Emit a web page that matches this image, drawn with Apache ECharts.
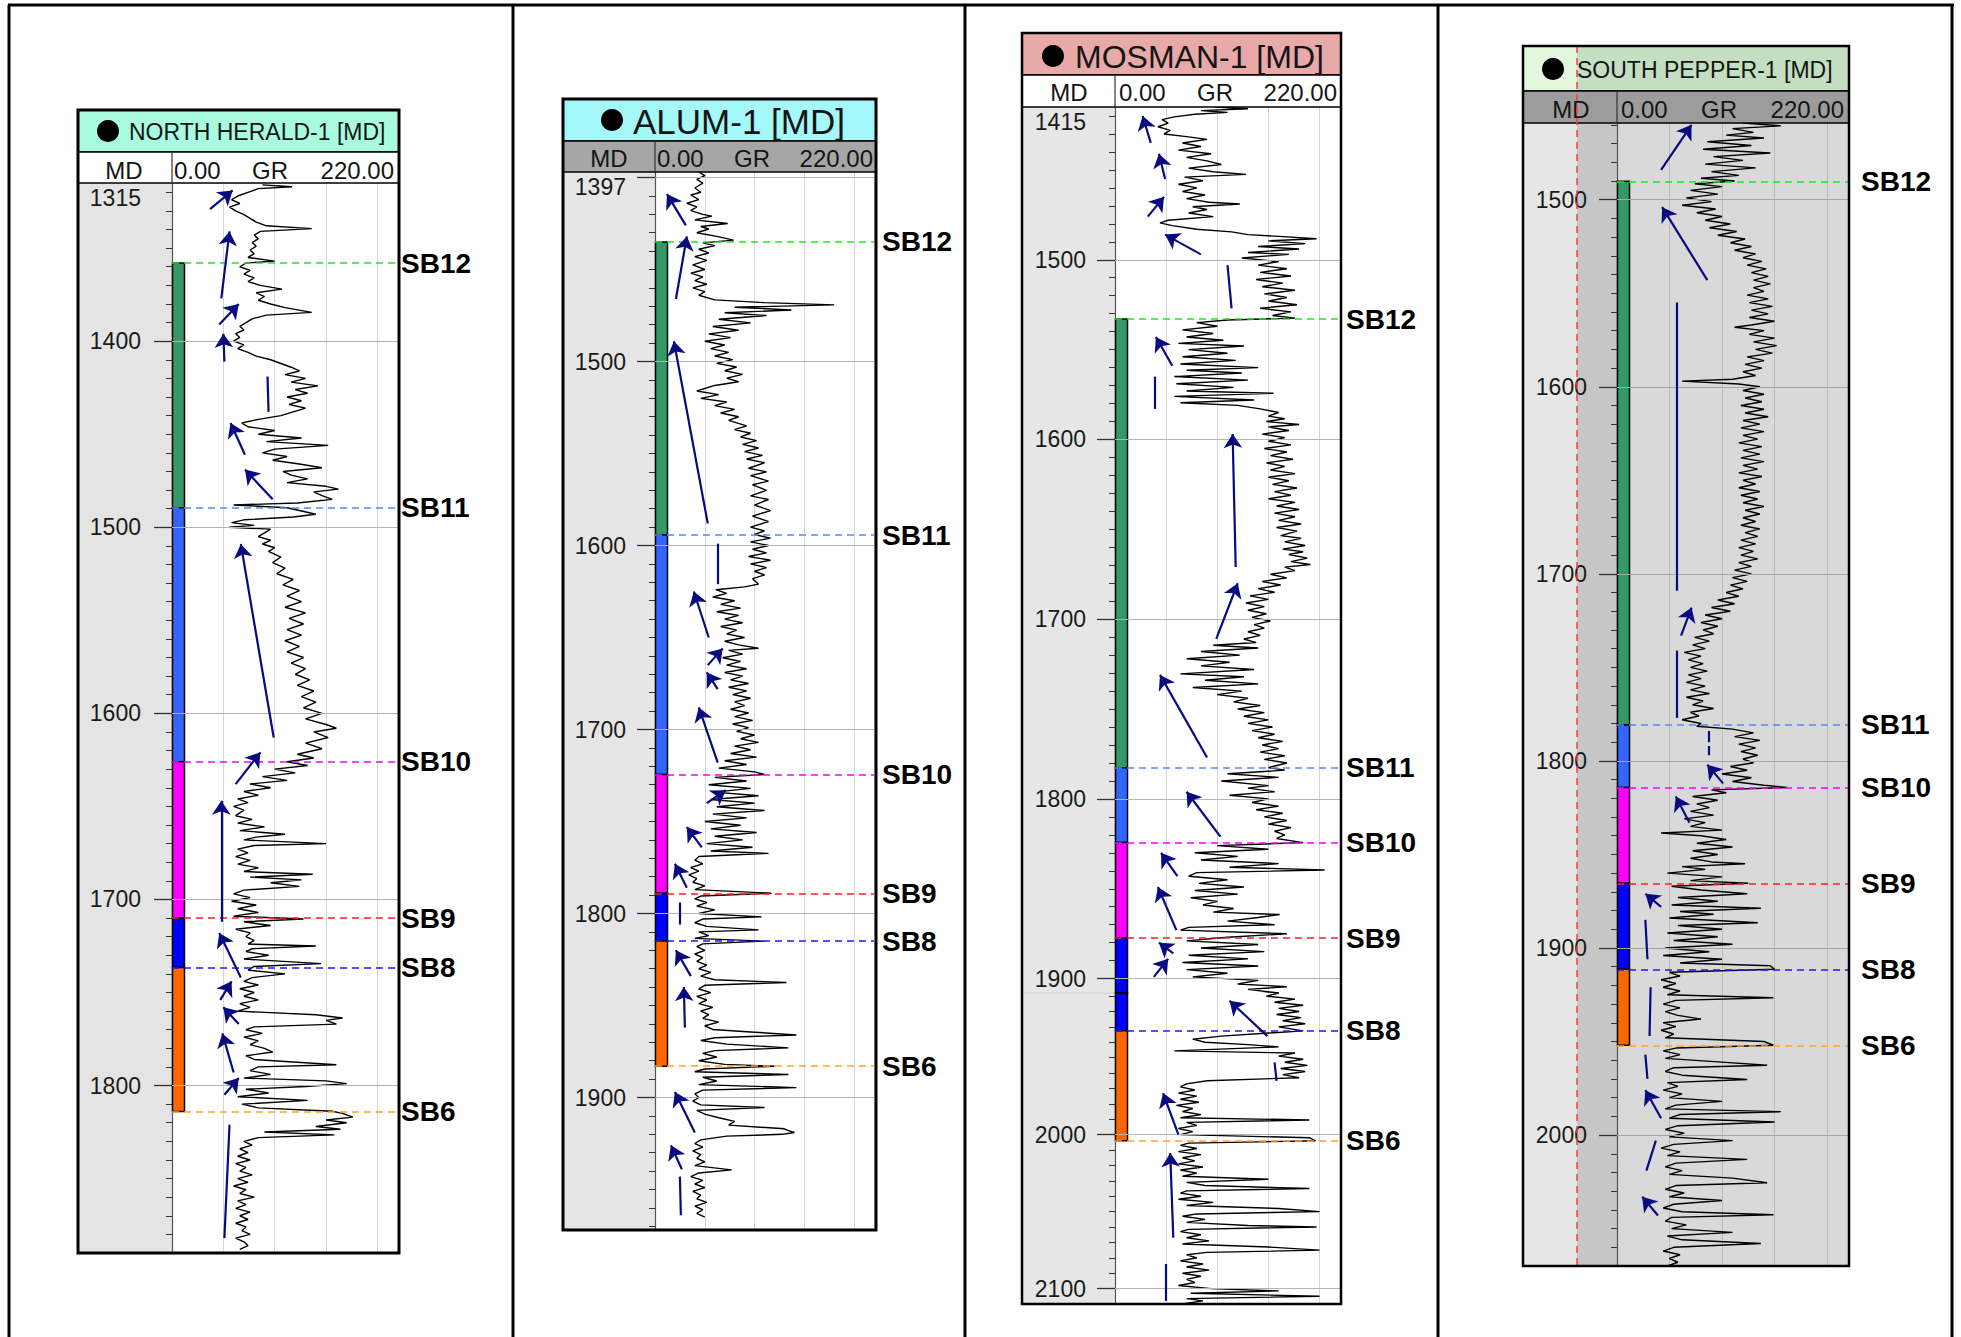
<!DOCTYPE html>
<html><head><meta charset="utf-8">
<script src="https://cdn.jsdelivr.net/npm/echarts@6.0.0/dist/echarts.min.js"></script>
<style>html,body{margin:0;padding:0;background:#fff}#c{width:1961px;height:1337px}</style>
</head><body><div id="c"></div>
<script>
// ---------------- DATA ----------------
const sbNames = ['SB12','SB11','SB10','SB9','SB8','SB6'];
const sbColors = ['#1ee61e','#5a86ff','#ff00ff','#ff2020','#1a1aff','#ffa030'];
const zoneColors = ['#339966','#3366ff','#ff00ff','#0000ff','#ff6600'];
const grTitle = ['MD','0.00','GR','220.00'];

const nhName = 'NORTH HERALD-1 [MD]';
const alumName = 'ALUM-1 [MD]';
const mosName = 'MOSMAN-1 [MD]';
const spName = 'SOUTH PEPPER-1 [MD]';

const nhLabels = [1315,1400,1500,1600,1700,1800];
const alumLabels = [1397,1500,1600,1700,1800,1900];
const mosLabels = [1415,1500,1600,1700,1800,1900,2000,2100];
const spLabels = [1500,1600,1700,1800,1900,2000];

// sequence boundary depths: SB12, SB11, SB10, SB9, SB8, SB6
const nhSB = [1358,1489.5,1626,1710,1736.6,1814];
const alumSB = [1435,1594.3,1724.4,1789,1815,1883];
const mosSB = [1533,1782.6,1824.3,1877.4,1932.6,2004];
const spSB = [1490.2,1780.8,1814.2,1865.4,1911.4,1952];

// arrows: [GR start, depth start, GR end, depth end]
const nhArrows = [[37,1329,59,1319],[48,1377,56,1341],[46,1391,65,1380],[51,1411,50,1396],[71,1461,57,1444],[98,1485,71,1469],[99,1613,67,1509],[62,1638,86,1621],[48,1712,48,1647],[67,1742,46,1718],[47,1754,58,1744],[65,1767,50,1758],[60,1793,49,1772],[51,1805,65,1796]];
const nhLines = [[93,1419,94,1438],[56,1821,51,1882]];
const alumArrows = [[31,1426,12,1409],[21,1466,32,1432],[53,1588,19,1489],[54,1650,39,1625],[53,1665,68,1656],[63,1678,52,1669],[63,1718,44,1688],[52,1740,71,1733],[47,1764,32,1753],[32,1786,20,1773],[36,1834,21,1820],[30,1862,29,1840],[40,1919,20,1897],[27,1939,16,1926]];
const alumLines = [[63,1599,63,1621],[25,1794,25,1806],[25,1943,26,1964]];
const mosArrows = [[35,1435,27,1420],[49,1455,43,1441],[32,1476,48,1465],[84,1497,49,1486],[56,1559,40,1543],[118,1671,115,1597],[99,1711,120,1680],[90,1777,44,1731],[103,1821,70,1796],[61,1843,45,1830],[60,1873,42,1849],[57,1886,43,1880],[38,1899,52,1889],[149,1936,112,1913],[62,2000,47,1973],[57,2067,54,2012]];
const mosLines = [[110,1503,114,1527],[39,1565,39,1583],[156,1953,158,1965],[50,2084,50,2108]];
const spArrows = [[42,1484,71,1460],[86,1543,43,1504],[61,1733,71,1718],[101,1812,86,1802],[69,1833,56,1819],[42,1878,27,1871],[42,1991,27,1976],[39,2043,24,2033]];
const spLines = [[57,1555,57,1709],[57,1741,57,1777],[87,1784,87,1790],[87,1792,87,1797],[27,1885,29,1906],[32,1921,31,1947],[27,1957,29,1970],[37,2003,28,2019]];

// GR curves: [depth, GR]
const nhCurve = [[1316,88],[1317,117],[1318,84],[1320,74],[1322,64],[1324,58],[1326,66],[1328,56],[1330,62],[1332,70],[1334,76],[1336,82],[1338,92],[1339.5,136],[1341,86],[1343,80],[1345,84],[1347,78],[1349,82],[1351,76],[1353,80],[1355,74],[1357,100],[1358,72],[1360,66],[1362,76],[1364,70],[1366,80],[1368,74],[1370,86],[1372,107],[1374,82],[1376,90],[1378,84],[1380,96],[1382,110],[1384.5,136],[1386,92],[1388,78],[1390,72],[1392,66],[1394,70],[1396,62],[1398,66],[1400,60],[1402,70],[1404,64],[1406,74],[1408,82],[1410,96],[1412,106],[1414,116],[1416,124],[1418,110],[1420,130],[1422,116],[1424,142],[1426,120],[1428,132],[1430,112],[1432,126],[1434,114],[1436,130],[1438,118],[1440,106],[1442,84],[1444,68],[1446,74],[1448,100],[1450,84],[1452,126],[1454,92],[1456,152],[1458,100],[1460,88],[1462,112],[1464,98],[1466,124],[1468,146],[1470,108],[1472,116],[1474,132],[1476,112],[1478,150],[1479.5,162],[1481,138],[1483,146],[1485,156],[1487,122],[1488,60],[1489.5,112],[1491,124],[1493,140],[1494.5,118],[1496,70],[1497.5,58],[1499,80],[1500,56],[1501,96],[1503,90],[1505,84],[1507,96],[1509,88],[1511,100],[1513,94],[1516,106],[1519,98],[1522,110],[1525,102],[1528,118],[1531,108],[1534,124],[1537,112],[1540,126],[1543,110],[1546,130],[1549,114],[1552,128],[1555,112],[1558,126],[1561,110],[1564,124],[1567,112],[1570,128],[1573,116],[1576,130],[1579,120],[1582,134],[1585,122],[1588,138],[1591,126],[1594,140],[1597,128],[1600,146],[1603,130],[1606,150],[1608,160],[1610,138],[1613,152],[1616,130],[1619,146],[1622,122],[1624,138],[1626,112],[1628,132],[1630,100],[1632,120],[1634,88],[1636,112],[1638,76],[1640,96],[1642,70],[1644,84],[1646,64],[1648,74],[1650,60],[1652,70],[1655,62],[1657,78],[1659,64],[1661,90],[1663,66],[1665,110],[1666.5,82],[1668,70],[1670,150],[1671,80],[1673,64],[1675,74],[1677,62],[1679,76],[1681,64],[1683,84],[1685,70],[1686.5,137],[1688,76],[1689.5,126],[1691,96],[1693,124],[1695,70],[1697,60],[1699,76],[1701,58],[1703,82],[1705,64],[1707,84],[1709,60],[1710.5,128],[1712,70],[1714,96],[1716,62],[1718,76],[1720,72],[1722,80],[1724,74],[1725,140],[1726.5,78],[1728,72],[1730,94],[1732,70],[1734.5,145],[1736,80],[1738,74],[1740,110],[1742,78],[1744,70],[1746,84],[1748,66],[1750,80],[1752,70],[1754,84],[1756,66],[1758,76],[1760,64],[1762,140],[1763.7,166],[1765,150],[1767,160],[1768.5,80],[1770,72],[1772,88],[1774,70],[1776,84],[1778,76],[1780,90],[1782,98],[1784,72],[1786,80],[1788.8,160],[1790,84],[1792,76],[1794,96],[1796,70],[1797.5,150],[1799,170],[1800.5,130],[1802,72],[1804,94],[1806,64],[1808,132],[1810,68],[1812,84],[1813.8,156],[1815,166],[1817,176],[1818.5,150],[1820,170],[1822,140],[1823.5,164],[1825,90],[1826.5,158],[1828,84],[1830,70],[1832,78],[1834,66],[1836,74],[1838,64],[1840,76],[1842,62],[1844,72],[1846,66],[1848,78],[1850,64],[1852,74],[1854,60],[1856,72],[1858,66],[1860,80],[1862,64],[1864,72],[1866,62],[1868,76],[1870,66],[1872,74],[1874,62],[1876,72],[1878,68],[1880,76],[1882,62],[1884,70],[1886,74],[1888,66]];

const alumCurve = [[1397,44],[1399,50],[1401,42],[1403,48],[1405.7,40],[1408,46],[1409.5,36],[1412,44],[1414,32],[1416,42],[1418,36],[1420,48],[1421,57],[1423,40],[1425,73],[1426.6,46],[1428,54],[1430,42],[1432,62],[1434,79],[1435.5,48],[1437,60],[1439,44],[1441,54],[1443,40],[1445,52],[1447.5,38],[1450,50],[1452,36],[1454,48],[1456,40],[1458,52],[1460,38],[1462,50],[1464,44],[1466.5,60],[1468,110],[1469.2,180],[1470.5,80],[1472,137],[1473.5,70],[1475,112],[1477,64],[1479,96],[1481,58],[1483,84],[1485,54],[1487,76],[1489,50],[1491,70],[1493,56],[1495,74],[1497,60],[1499,78],[1501,62],[1503,82],[1505,70],[1507,88],[1509,72],[1511,84],[1513,60],[1516,42],[1518,64],[1520,46],[1522,72],[1524,60],[1526,80],[1528,66],[1530,84],[1532,74],[1535,92],[1537,80],[1539,96],[1541,86],[1543,102],[1545,88],[1547,104],[1549,90],[1551,108],[1553,92],[1555,110],[1558,94],[1560,112],[1562,96],[1565,114],[1567,98],[1570,112],[1573,96],[1575,114],[1578,100],[1581,116],[1584,98],[1587,114],[1590,96],[1592,110],[1594,100],[1596,116],[1598,96],[1600,114],[1602,98],[1604,112],[1606,94],[1608,116],[1610,96],[1612,112],[1614,100],[1616,110],[1618,98],[1621,104],[1622.5,90],[1624,61],[1626,72],[1628,58],[1630,80],[1632,66],[1634,86],[1636,62],[1638,84],[1640,70],[1642,88],[1644,66],[1646,82],[1648,72],[1650,90],[1652,70],[1654,84],[1655.8,104],[1657,74],[1659,88],[1661,68],[1663,86],[1665,72],[1667,92],[1669,70],[1671,88],[1673,76],[1675,94],[1677,74],[1679,92],[1681,78],[1683,96],[1685,80],[1687,90],[1689,76],[1691,94],[1693,80],[1695,98],[1697,78],[1699,94],[1701,82],[1703,100],[1705,86],[1707,104],[1709,80],[1711,96],[1713,76],[1715,102],[1717,70],[1719,92],[1721,64],[1723,100],[1724.4,110],[1726,60],[1728,92],[1730,54],[1732,96],[1734,60],[1736,104],[1738,56],[1740,100],[1742,62],[1744,110],[1746,58],[1748,92],[1750,50],[1752,86],[1754,56],[1756,102],[1758,60],[1760,88],[1762,52],[1764,98],[1766,56],[1767.3,114],[1769,44],[1771,40],[1773,48],[1775,36],[1777,44],[1779,34],[1781,42],[1783,38],[1785,50],[1787,40],[1789,117],[1790.5,46],[1792,40],[1794,52],[1796,42],[1798,60],[1800,44],[1801.8,107],[1803,48],[1805,40],[1807,52],[1808.9,104],[1810,44],[1812,54],[1813.5,40],[1815,110],[1816.5,48],[1818,42],[1820,50],[1822,40],[1824,48],[1826,42],[1828,52],[1830,44],[1832,56],[1834,46],[1836,60],[1837.5,132],[1839,50],[1841,44],[1843,56],[1845,42],[1847,52],[1849,44],[1851,58],[1853,46],[1855,54],[1857,48],[1859,64],[1861,50],[1863,58],[1864.5,100],[1866,142],[1867.5,60],[1869,46],[1871,72],[1873,134],[1874.5,60],[1876,48],[1878,62],[1880,44],[1882,70],[1883,120],[1884.5,50],[1886,40],[1887.5,134],[1889,48],[1891,62],[1893,44],[1894.6,142],[1896,48],[1898,40],[1900,44],[1902,38],[1904,46],[1905.4,110],[1907,42],[1909,50],[1911,64],[1913,80],[1915,74],[1917,130],[1918,134],[1919,140],[1920,128],[1921,72],[1923,46],[1925,40],[1927,48],[1929,38],[1931,46],[1933,42],[1935,50],[1937,40],[1939.3,77],[1941,44],[1943,36],[1945,48],[1947,40],[1949,50],[1951,38],[1953,46],[1955,42],[1957,52],[1959,40],[1961,48],[1963,42],[1965,50]];

const mosCurve = [[1415,98],[1416,130],[1417,84],[1418,110],[1419,78],[1420.5,58],[1422,46],[1424,52],[1426,42],[1428,54],[1430,48],[1431.5,70],[1433,90],[1435,66],[1437,84],[1439,62],[1441,94],[1443,70],[1445,90],[1447,104],[1449,72],[1451,96],[1452.5,128],[1454,68],[1456,86],[1458,62],[1460,80],[1462,66],[1464,88],[1466,70],[1468,92],[1469,122],[1470.5,76],[1472,90],[1474,72],[1476,96],[1478,52],[1479.5,44],[1481,56],[1483,80],[1484.5,114],[1486,130],[1487,160],[1488.3,197],[1489.5,150],[1491,186],[1492.6,140],[1494,180],[1496,130],[1497,170],[1499,124],[1501,160],[1503,140],[1505,168],[1507,142],[1509,172],[1511,138],[1513,164],[1515,144],[1517,176],[1519,146],[1521,168],[1523,150],[1525,178],[1527,142],[1529,172],[1531,154],[1532.5,176],[1533.5,110],[1535,80],[1537,100],[1539,66],[1541,96],[1543,70],[1544.8,106],[1546.5,62],[1548,126],[1550,72],[1552,110],[1554,66],[1556,118],[1558,64],[1560,140],[1561.5,70],[1563,124],[1565,58],[1567,130],[1569,60],[1571,116],[1573,70],[1574.3,155],[1576,58],[1578,136],[1579.6,64],[1581,120],[1583,142],[1585,160],[1587,150],[1588.5,166],[1590,148],[1591.7,180],[1593,150],[1595,170],[1597,144],[1599,166],[1601,150],[1603,172],[1605,146],[1607,168],[1609,152],[1611,174],[1613,148],[1615,166],[1617,152],[1619,176],[1621,150],[1623,170],[1625,154],[1627,178],[1629,156],[1631,172],[1633,150],[1635,176],[1637,158],[1639,180],[1641,156],[1643,176],[1645,160],[1647,182],[1649,158],[1651,178],[1653.5,162],[1655,182],[1657,166],[1659,186],[1661,164],[1662.5,184],[1664,170],[1666,188],[1668,172],[1669.6,191],[1671,166],[1673,176],[1675,152],[1677,168],[1679,144],[1681,162],[1683,140],[1685,156],[1687,132],[1689,150],[1691,128],[1693,146],[1695,130],[1697,148],[1699,134],[1701,152],[1703,136],[1705,146],[1707,130],[1709,142],[1711,126],[1713,138],[1714.5,96],[1716,140],[1718,84],[1720,122],[1722,70],[1724,112],[1726,84],[1728,136],[1730.4,64],[1732,126],[1734,88],[1736,140],[1738,76],[1740,124],[1742,100],[1744,130],[1746,116],[1748,142],[1750,120],[1752,146],[1754,126],[1756,150],[1758,130],[1760,154],[1762,134],[1764,156],[1766,140],[1768,164],[1770,144],[1772,160],[1774,142],[1776,166],[1778,146],[1780,168],[1782.6,150],[1784,166],[1786,110],[1788,160],[1790,104],[1792.6,150],[1794,130],[1796,156],[1798,112],[1800,150],[1802,134],[1804,160],[1806,138],[1808,164],[1810,146],[1812,168],[1814,150],[1816,172],[1818,156],[1820,166],[1822,158],[1824.3,184],[1826,100],[1828,150],[1830,78],[1832,120],[1834,84],[1836,160],[1838,112],[1839.6,205],[1841,80],[1843,72],[1845,110],[1847,82],[1849,126],[1851,78],[1853,120],[1855,74],[1857,100],[1859,86],[1861,116],[1863,96],[1864.3,161],[1866,140],[1868,110],[1870,156],[1871.5,72],[1873,64],[1875,168],[1877,110],[1879,70],[1881,140],[1883,84],[1885,146],[1887,72],[1889,130],[1891,66],[1893,140],[1895,70],[1897,110],[1899,76],[1901,140],[1903,120],[1904.5,168],[1906,130],[1908,160],[1910,148],[1912,176],[1914,156],[1916,184],[1918,160],[1920,180],[1922,158],[1924,182],[1926,164],[1928,186],[1930,160],[1932.6,184],[1934,150],[1936,104],[1938,76],[1940,88],[1941.5,130],[1943,160],[1945.6,58],[1947,176],[1949,160],[1951,184],[1953,166],[1955,188],[1957,162],[1959,186],[1961,164],[1963,180],[1965,90],[1967,70],[1969,64],[1971,78],[1973,62],[1975,80],[1977,64],[1979,82],[1981,60],[1983,76],[1985,66],[1987,84],[1989,64],[1990.5,190],[1992,70],[1994,80],[1996,62],[1998,76],[2000,64],[2002,190],[2004,196],[2005.5,72],[2007,64],[2009,80],[2011,62],[2013,84],[2015,66],[2017,78],[2019,62],[2021,86],[2023,64],[2025,80],[2027,66],[2029,150],[2031,70],[2033,88],[2035,190],[2036.5,70],[2038,64],[2040,84],[2042,62],[2044,96],[2046,70],[2048,160],[2050,200],[2051.5,80],[2053,66],[2055,88],[2057,70],[2059,130],[2060,197],[2061.5,72],[2063,64],[2065,84],[2067,70],[2069,92],[2071,66],[2073,150],[2075,200],[2076.5,90],[2078,70],[2080,80],[2082,64],[2084,86],[2086,70],[2088,92],[2090,66],[2092,84],[2094,70],[2096,78],[2098,62],[2100,94],[2101.5,160],[2103,74],[2105,200],[2106.5,70],[2108,86],[2110,66]];

const spCurve = [[1459,120],[1460.5,156],[1462,110],[1464,130],[1465.5,104],[1467,140],[1469,86],[1471,128],[1473,82],[1475,146],[1477,92],[1479,120],[1481,84],[1483,132],[1485,90],[1487,116],[1488.5,80],[1490,112],[1491.5,74],[1493,100],[1495,70],[1497,96],[1499,66],[1501,90],[1503,62],[1505,94],[1507,76],[1509,100],[1511,84],[1513,108],[1515,88],[1517,114],[1519,96],[1521,122],[1523,108],[1525,128],[1527,112],[1529,132],[1531,120],[1533,138],[1535,124],[1537,142],[1539,128],[1541,144],[1543,130],[1545,146],[1547,130],[1549,140],[1551,124],[1553,144],[1555,126],[1557,148],[1559,128],[1561,144],[1563,126],[1565,150],[1567,128],[1568.2,112],[1570,140],[1572,126],[1574,150],[1576,130],[1578,152],[1580,132],[1582,148],[1584,124],[1586,140],[1588,122],[1590,138],[1592,120],[1594,132],[1596,110],[1597,62],[1598.5,116],[1600,136],[1602,120],[1604,140],[1606,122],[1608,138],[1610,118],[1612,140],[1614,122],[1616,144],[1618,120],[1620,136],[1622,118],[1624,140],[1626,120],[1628,134],[1630,116],[1632,138],[1634,120],[1636,136],[1638,118],[1640,140],[1642,120],[1644,134],[1646,116],[1648,138],[1650,120],[1652,132],[1654,116],[1656,136],[1658,118],[1660,134],[1662,120],[1664,140],[1666,122],[1668,136],[1670,120],[1672,132],[1674,118],[1676,136],[1678,122],[1680,134],[1682,118],[1684,132],[1686,116],[1688,130],[1690,118],[1692,134],[1694,116],[1696,128],[1698,112],[1700,128],[1702,110],[1704,124],[1706,108],[1708,120],[1710,104],[1712,116],[1714,96],[1716,112],[1718,90],[1720,108],[1722,84],[1724,100],[1726,80],[1728,96],[1730,82],[1732,92],[1734,74],[1736,88],[1738,72],[1740,84],[1742,64],[1744,80],[1746,68],[1748,82],[1750,70],[1752,86],[1754,68],[1756,80],[1758,66],[1760,84],[1762,70],[1764,88],[1766,66],[1768,82],[1770,72],[1772,92],[1774,70],[1776,78],[1778,62],[1780,80],[1781.5,76],[1783,110],[1785,130],[1787,112],[1789,136],[1791,116],[1793,132],[1795,118],[1797,134],[1799,120],[1801,130],[1803,108],[1805,124],[1807,100],[1809,128],[1811,110],[1813,140],[1814.2,162],[1815.5,90],[1817,104],[1819,72],[1821,96],[1823,76],[1825,88],[1827,70],[1829,92],[1831,64],[1833,84],[1835,70],[1837,100],[1838.5,42],[1840,80],[1842,104],[1844,76],[1846,110],[1848,72],[1850,96],[1852,70],[1854,90],[1855,122],[1856.5,62],[1858,84],[1860,48],[1862,100],[1864,70],[1865.4,125],[1867,52],[1869,80],[1871,124],[1873,58],[1875,96],[1877,52],[1878.8,137],[1880.5,60],[1882,92],[1884,50],[1886.5,134],[1888,58],[1890,100],[1892,48],[1894,96],[1896,54],[1898,110],[1900,46],[1902,88],[1904,44],[1906,100],[1908,60],[1909.5,146],[1911.4,150],[1913,50],[1915,60],[1917,42],[1919,56],[1921,44],[1923,60],[1925,48],[1926.6,149],[1928,56],[1930,44],[1932,60],[1934,46],[1936,58],[1938,80],[1940,44],[1942,56],[1944,42],[1946,54],[1948,46],[1950,140],[1952,149],[1953.5,56],[1955,44],[1957,60],[1959,46],[1961,100],[1962.7,143],[1964,54],[1966,46],[1968,62],[1970.3,124],[1972,48],[1974,58],[1976,44],[1978,62],[1980,50],[1982,100],[1984,56],[1986,46],[1987.5,156],[1989,60],[1991,50],[1993,150],[1995,58],[1997,46],[1999,64],[2001,50],[2003,110],[2005,54],[2007,42],[2009,60],[2011,48],[2013,124],[2015,56],[2017,46],[2019,62],[2021,50],[2023,110],[2025.5,143],[2027,56],[2029,46],[2031,64],[2033,50],[2035,100],[2037,54],[2039,44],[2041,62],[2042.6,149],[2044,52],[2046,46],[2048,66],[2050,52],[2052,110],[2054,48],[2056,62],[2058,137],[2060,54],[2062,44],[2064,60],[2066,50],[2068,58],[2070,48]];

// ---------------- LAYOUT (pixels & styles) ----------------
const FONT = "'Liberation Sans', Arial, Helvetica, sans-serif";
const layouts = {
  nh: {panelLeft:78, panelRight:399, headerTop:110, headerBottom:152, subBottom:183, bottom:1253, trackLeft:172, trackRight:398,
    headerFill:'#a9fbe0', headerFont:23, circleX:108, textX:129, headerMid:132, subMid:170, subFill:'#ffffff', mdFill:'#e4e4e4', trackFill:'#ffffff',
    gridColor:'#d6d6d6', majorColor:'#b4b4b4', labelMargin:31, sbDist:3, mdX:124, zeroX:174, grX:270, maxX:394, borderW:3,
    segs:[{min:1315, max:1890, top:183, bottom:1253}]},
  alum: {panelLeft:563, panelRight:876, headerTop:99, headerBottom:141, subBottom:172, bottom:1230, trackLeft:655, trackRight:874,
    headerFill:'#a5f8f9', headerFont:35, circleX:612, textX:633, headerMid:121, subMid:158, subFill:'#a6a6a6', mdFill:'#e6e6e6', trackFill:'#ffffff',
    gridColor:'#d6d6d6', majorColor:'#b4b4b4', labelMargin:29, sbDist:8, mdX:609, zeroX:657, grX:752, maxX:873, borderW:3,
    segs:[{min:1397, max:1972, top:172, bottom:1230}]},
  mos: {panelLeft:1022, panelRight:1341, headerTop:33, headerBottom:75, subBottom:107, bottom:1304, trackLeft:1115, trackRight:1340,
    headerFill:'#e8a9a9', headerFont:32, circleX:1053, textX:1075, headerMid:57, subMid:92, subFill:'#ffffff', mdFill:'#e6e6e6', trackFill:'#ffffff',
    gridColor:'#d6d6d6', majorColor:'#b4b4b4', labelMargin:29, sbDist:6, mdX:1069, zeroX:1119, grX:1215, maxX:1337, borderW:2.5,
    segs:[{min:1415, max:1908, top:107, bottom:993},{min:1908, max:2110, top:993, bottom:1304}]},
  sp: {panelLeft:1523, panelRight:1849, headerTop:46, headerBottom:91, subBottom:123, bottom:1266, trackLeft:1617, trackRight:1848,
    headerFill:'#c3dec0', headerFont:23, circleX:1553, textX:1577, headerMid:70, subMid:109, subFill:'#9c9c9c', mdFill:'#e6e6e6', trackFill:'#d9d9d9',
    gridColor:'#bababa', majorColor:'#a6a6a6', labelMargin:30, sbDist:13, mdX:1571, zeroX:1621, grX:1719, maxX:1844, borderW:2.5,
    segs:[{min:1459, max:2070, top:123, bottom:1266}]}
};

const wells = [
  {name:nhName, curve:nhCurve, sb:nhSB, arrows:nhArrows, lines:nhLines, labels:nhLabels, L:layouts.nh},
  {name:alumName, curve:alumCurve, sb:alumSB, arrows:alumArrows, lines:alumLines, labels:alumLabels, L:layouts.alum},
  {name:mosName, curve:mosCurve, sb:mosSB, arrows:mosArrows, lines:mosLines, labels:mosLabels, L:layouts.mos},
  {name:spName, curve:spCurve, sb:spSB, arrows:spArrows, lines:spLines, labels:spLabels, L:layouts.sp}
];

// ---------------- BUILD ----------------
const grids = [], xAxes = [], yAxes = [], series = [], gfx = [];

function txt(x, y, text, size, align) {
  return {type:'text', x:x, y:y, z:120, silent:true,
    style:{text:text, fill:'#151515', font: size + 'px ' + FONT, align:align, textAlign:align, verticalAlign:'middle', textVerticalAlign:'middle'}};
}

wells.forEach(w => {
  const L = w.L;
  const zones = [];
  for (let i = 0; i < w.sb.length - 1; i++) zones.push([w.sb[i], w.sb[i + 1], i]);

  gfx.push({type:'rect', z:-10, silent:true, shape:{x:L.panelLeft, y:L.subBottom, width:L.trackLeft - L.panelLeft, height:L.bottom - L.subBottom}, style:{fill:L.mdFill}});
  gfx.push({type:'rect', z:-10, silent:true, shape:{x:L.trackLeft, y:L.subBottom, width:L.trackRight - L.trackLeft, height:L.bottom - L.subBottom}, style:{fill:L.trackFill}});
  gfx.push({type:'rect', z:110, silent:true, shape:{x:L.panelLeft, y:L.headerTop, width:L.panelRight - L.panelLeft, height:L.headerBottom - L.headerTop}, style:{fill:L.headerFill, stroke:'#000', lineWidth:1.5}});
  gfx.push({type:'rect', z:110, silent:true, shape:{x:L.panelLeft, y:L.headerBottom, width:L.panelRight - L.panelLeft, height:L.subBottom - L.headerBottom}, style:{fill:L.subFill, stroke:'#000', lineWidth:1.5}});
  gfx.push({type:'line', z:115, silent:true, shape:{x1:L.trackLeft, y1:L.headerBottom, x2:L.trackLeft, y2:L.subBottom}, style:{stroke:'#333', lineWidth:1.2}});
  gfx.push({type:'circle', z:120, silent:true, shape:{cx:L.circleX, cy:L.headerMid - 1, r:11}, style:{fill:'#000'}});
  gfx.push(txt(L.textX, L.headerMid, w.name, L.headerFont, 'left'));
  gfx.push(txt(L.mdX, L.subMid, grTitle[0], 24, 'center'));
  gfx.push(txt(L.zeroX, L.subMid, grTitle[1], 24, 'left'));
  gfx.push(txt(L.grX, L.subMid, grTitle[2], 24, 'center'));
  gfx.push(txt(L.maxX, L.subMid, grTitle[3], 24, 'right'));
  gfx.push({type:'rect', z:130, silent:true, shape:{x:L.panelLeft, y:L.headerTop, width:L.panelRight - L.panelLeft, height:L.bottom - L.headerTop}, style:{fill:'none', stroke:'#000', lineWidth:L.borderW}});

  L.segs.forEach(s => {
    const inSeg = d => d >= s.min && d <= s.max;
    const majors = [];
    for (let d = Math.ceil(s.min / 100) * 100; d <= s.max; d += 100) majors.push(d);
    const minors = [];
    for (let d = Math.ceil(s.min / 10) * 10; d <= s.max; d += 10) minors.push(d);
    const labelVals = w.labels.filter(inSeg);

    // MD column grid: long major ticks at the track boundary
    const gMD = grids.length;
    grids.push({left:L.panelLeft, top:s.top, width:L.trackLeft - L.panelLeft, height:s.bottom - s.top, show:false});
    xAxes.push({gridIndex:gMD, type:'value', min:0, max:1, show:false});
    yAxes.push({gridIndex:gMD, type:'value', inverse:true, min:s.min, max:s.max, position:'right',
      axisLine:{show:false, onZero:false}, axisLabel:{show:false}, splitLine:{show:false},
      axisTick:{show:true, inside:true, length:18, lineStyle:{color:'#333', width:1.3}, customValues:majors}});

    // track grid
    const gT = grids.length;
    grids.push({left:L.trackLeft, top:s.top, width:L.trackRight - L.trackLeft, height:s.bottom - s.top, show:false});
    const xi = xAxes.length;
    xAxes.push({gridIndex:gT, type:'value', min:0, max:220, interval:50, position:'top',
      axisLine:{show:false, onZero:false}, axisTick:{show:false}, axisLabel:{show:false},
      splitLine:{show:true, lineStyle:{color:L.gridColor, width:1}}});
    const yi = yAxes.length;
    yAxes.push({gridIndex:gT, type:'value', inverse:true, min:s.min, max:s.max, position:'left',
      axisLine:{show:true, onZero:false, lineStyle:{color:'#555', width:1.2}},
      axisTick:{show:true, length:6, lineStyle:{color:'#333', width:1}, customValues:minors},
      axisLabel:{show:true, customValues:labelVals, margin:L.labelMargin, color:'#1a1a1a', fontSize:23, fontFamily:FONT,
        showMinLabel:true, showMaxLabel:true, hideOverlap:false,
        formatter: v => (v === s.min ? '{t|' + v + '}' : String(v)),
        rich:{t:{fontSize:23, fontFamily:FONT, color:'#1a1a1a', padding:[30,0,0,0]}}},
      splitLine:{show:false}});

    const base = {xAxisIndex:xi, yAxisIndex:yi, silent:true, animation:false};
    series.push(Object.assign({type:'line', data:[], z:1,
      markLine:{silent:true, animation:false, symbol:['none','none'], label:{show:false},
        lineStyle:{color:L.majorColor, width:1.2, type:'solid'}, data:majors.map(v => ({yAxis:v}))}}, base));
    series.push(Object.assign({type:'line', z:3, symbol:'none', showSymbol:false, clip:true,
      lineStyle:{color:'#000', width:1.4},
      data:w.curve.filter(p => p[0] >= s.min - 4 && p[0] <= s.max + 4).map(p => [p[1], p[0]])}, base));
    series.push(Object.assign({type:'custom', z:4,
      data:zones.filter(zn => zn[1] > s.min && zn[0] < s.max),
      renderItem:(params, api) => {
        const cs = params.coordSys;
        const y1 = api.coord([0, api.value(0)])[1];
        const y2 = api.coord([0, api.value(1)])[1];
        const top = Math.max(cs.y, Math.min(y1, y2));
        const bot = Math.min(cs.y + cs.height, Math.max(y1, y2));
        if (bot <= top) return null;
        return {type:'rect', shape:{x:cs.x + 0.5, y:top, width:12, height:bot - top},
          style:{fill:zoneColors[api.value(2)], stroke:'#000', lineWidth:1.5}};
      }}, base));
    const sbData = [];
    w.sb.forEach((d, i) => {
      if (!inSeg(d)) return;
      sbData.push({yAxis:d, lineStyle:{color:sbColors[i], width:1.6, type:[7,5]},
        label:{show:true, position:'end', distance:L.sbDist, formatter:sbNames[i], color:'#000',
          fontSize:28, fontWeight:'bold', fontFamily:FONT}});
    });
    series.push(Object.assign({type:'line', data:[], z:6,
      markLine:{silent:true, animation:false, symbol:['none','none'], data:sbData}}, base));
    const inPair = a => inSeg(a[1]) && inSeg(a[3]);
    series.push(Object.assign({type:'line', data:[], z:7,
      markLine:{silent:true, animation:false, symbol:['none','arrow'], symbolSize:14, label:{show:false},
        lineStyle:{color:'#0a0a80', width:2.2, type:'solid'},
        data:w.arrows.filter(inPair).map(a => [{coord:[a[0], a[1]]}, {coord:[a[2], a[3]]}])}}, base));
    series.push(Object.assign({type:'line', data:[], z:7,
      markLine:{silent:true, animation:false, symbol:['none','none'], label:{show:false},
        lineStyle:{color:'#0a0a80', width:2.2, type:'solid'},
        data:w.lines.filter(inPair).map(a => [{coord:[a[0], a[1]]}, {coord:[a[2], a[3]]}])}}, base));
  });
});

// South Pepper extras
const SP = layouts.sp;
gfx.push({type:'rect', z:-9, silent:true, shape:{x:1577, y:SP.subBottom, width:SP.trackLeft - 1577, height:SP.bottom - SP.subBottom}, style:{fill:'#c6c6c6'}});
gfx.push({type:'rect', z:111, silent:true, shape:{x:SP.panelLeft + 1, y:SP.headerTop + 1, width:1577 - SP.panelLeft - 1, height:SP.headerBottom - SP.headerTop - 2}, style:{fill:'#e3f7df'}});
gfx.push({type:'line', z:125, silent:true, shape:{x1:1577, y1:SP.headerTop, x2:1577, y2:SP.bottom}, style:{stroke:'#ff3b3b', lineWidth:1.5, lineDash:[7,5]}});
gfx.push({type:'line', z:-8, silent:true, shape:{x1:layouts.mos.panelLeft, y1:993, x2:layouts.mos.trackLeft, y2:993}, style:{stroke:'#d0d0d0', lineWidth:1}});

// outer frame
gfx.push({type:'line', z:140, silent:true, shape:{x1:8, y1:5, x2:1954, y2:5}, style:{stroke:'#000', lineWidth:3}});
[9, 513, 965, 1438, 1952].forEach(x => gfx.push({type:'line', z:140, silent:true, shape:{x1:x, y1:5, x2:x, y2:1337}, style:{stroke:'#000', lineWidth:3}}));

const chart = echarts.init(document.getElementById('c'), null, {renderer:'svg', width:1961, height:1337});
chart.setOption({
  animation:false,
  backgroundColor:'#ffffff',
  grid:grids, xAxis:xAxes, yAxis:yAxes, series:series,
  graphic:{elements:gfx}
});
</script></body></html>
